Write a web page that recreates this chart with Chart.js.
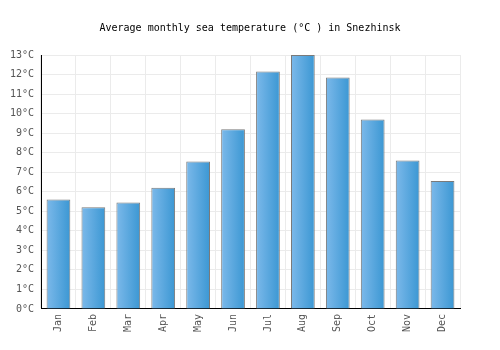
<!DOCTYPE html>
<html>
<head>
<meta charset="utf-8">
<script src="https://cdn.jsdelivr.net/npm/chart.js@4/dist/chart.umd.min.js"></script>
<style>
  html, body { margin: 0; padding: 0; background: #fff; }
  #wrap { width: 500px; height: 350px; }
</style>
</head>
<body>
<div id="wrap"><canvas id="chart" width="500" height="350"></canvas></div>
<script>
var months = ['Jan', 'Feb', 'Mar', 'Apr', 'May', 'Jun', 'Jul', 'Aug', 'Sep', 'Oct', 'Nov', 'Dec'];
var seaTemp = [5.6, 5.2, 5.45, 6.2, 7.55, 9.2, 12.15, 13.0, 11.85, 9.7, 7.6, 6.55];
var yTicks = [0, 1, 2, 3, 4, 5, 6, 7, 8, 9, 10, 11, 12, 13];

var mono = "'DejaVu Sans Mono', monospace";

// gradient per bar, light on the left, darker on the right
var barFill = function(context) {
    var chart = context.chart;
    var xScale = chart.scales.x;
    if (!xScale || context.dataIndex === undefined) {
        return '#5aa8e0';
    }
    var cx = xScale.getPixelForValue(context.dataIndex);
    var half = xScale.width / months.length * 0.34;
    if (!isFinite(cx) || !isFinite(half) || half <= 0) {
        return '#5aa8e0';
    }
    var g = chart.ctx.createLinearGradient(cx - half, 0, cx + half, 0);
    g.addColorStop(0, '#7cb9ea');
    g.addColorStop(1, '#3b97d3');
    return g;
};

new Chart('chart', {
    type: 'bar',
    data: {
        labels: months,
        datasets: [{
            label: 'Sea temperature',
            data: seaTemp,
            backgroundColor: barFill,
            borderColor: '#7a7a7a',
            borderWidth: 1,
            borderSkipped: 'bottom',
            barPercentage: 0.68,
            categoryPercentage: 1
        }]
    },
    options: {
        responsive: false,
        animation: false,
        layout: { padding: { left: 0, right: 0, top: 4, bottom: 13 } },
        plugins: {
            legend: { display: false },
            tooltip: { enabled: false },
            title: {
                display: true,
                text: 'Average monthly sea temperature (°C ) in Snezhinsk',
                color: '#000',
                font: { family: mono, size: 10, weight: 'normal' },
                padding: { top: 18, bottom: 21 }
            }
        },
        scales: {
            x: {
                grid: { color: '#ebebeb', drawTicks: false, offset: true },
                border: { color: '#000', width: 1 },
                ticks: {
                    color: '#555',
                    font: { family: mono, size: 10 },
                    maxRotation: 90,
                    minRotation: 90,
                    padding: 5
                }
            },
            y: {
                min: 0,
                max: 13,
                afterBuildTicks: function(axis) {
                    axis.ticks = yTicks.map(function(v) { return { value: v }; });
                },
                afterFit: function(axis) {
                    axis.width = 41;
                },
                grid: { color: '#ebebeb', drawTicks: false },
                border: { color: '#000', width: 1 },
                ticks: {
                    color: '#555',
                    font: { family: mono, size: 10 },
                    padding: 7,
                    callback: function(v) { return v + '°C'; }
                }
            },
            // empty right-hand axis, only keeps the gap on the right
            yRight: {
                position: 'right',
                min: 0,
                max: 13,
                afterFit: function(axis) {
                    axis.width = 40;
                },
                grid: { display: false },
                border: { display: false },
                ticks: { display: false }
            }
        }
    }
});
</script>
</body>
</html>
